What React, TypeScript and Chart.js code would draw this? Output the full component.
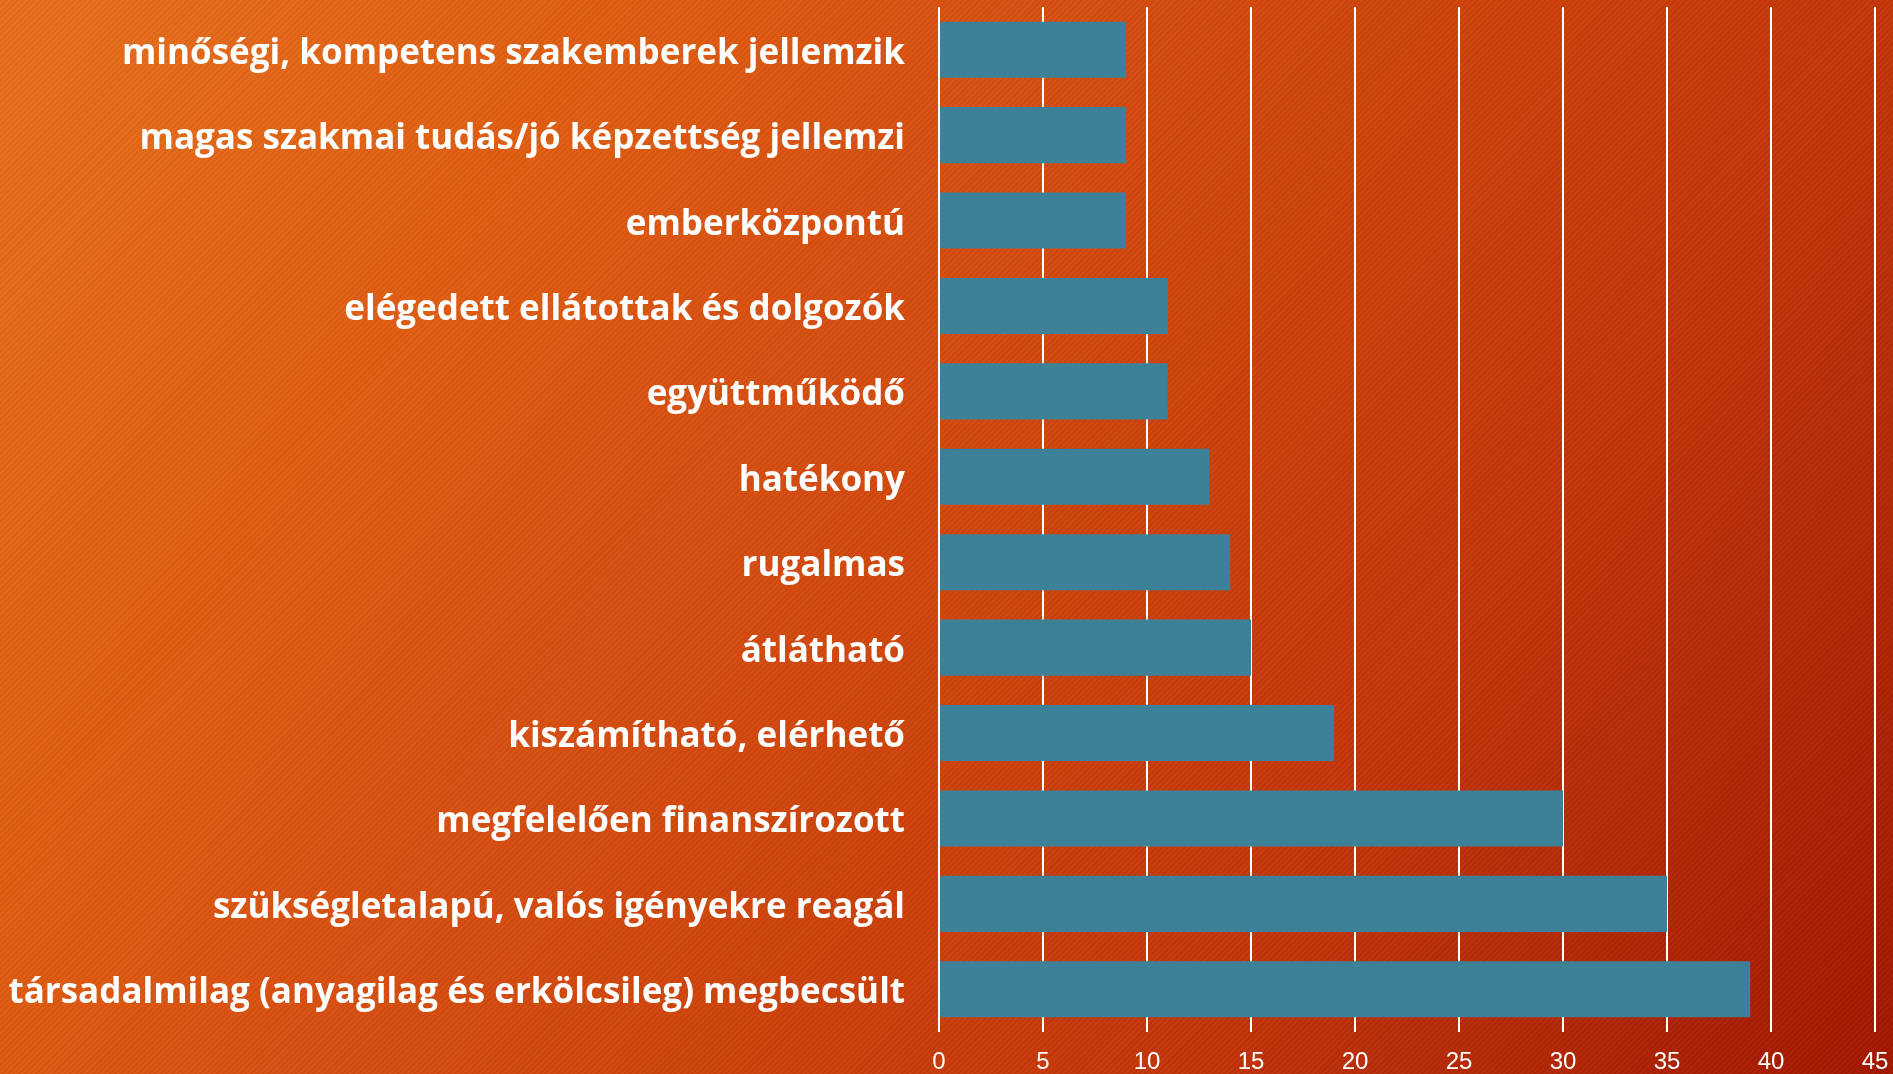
import React, { useEffect, useRef } from "react";
import { Chart, registerables } from "chart.js";

Chart.register(...registerables);

const categories: string[] = [
  "minőségi, kompetens szakemberek jellemzik",
  "magas szakmai tudás/jó képzettség jellemzi",
  "emberközpontú",
  "elégedett ellátottak és dolgozók",
  "együttműködő",
  "hatékony",
  "rugalmas",
  "átlátható",
  "kiszámítható, elérhető",
  "megfelelően finanszírozott",
  "szükségletalapú, valós igényekre reagál",
  "társadalmilag (anyagilag és erkölcsileg) megbecsült",
];

const values: number[] = [9, 9, 9, 11, 11, 13, 14, 15, 19, 30, 35, 39];

const xMin = 0;
const xMax = 45;
const xStep = 5;

const W = 1893;
const H = 1074;

export default function App() {
  const ref = useRef<HTMLCanvasElement | null>(null);

  useEffect(() => {
    document.body.style.margin = "0";
    const canvas = ref.current;
    if (!canvas) return;
    const chart = new Chart(canvas, {
      type: "bar",
      data: {
        labels: categories,
        datasets: [
          {
            data: values,
            backgroundColor: "#3D8199",
            borderWidth: 0,
            barPercentage: 0.656,
            categoryPercentage: 1,
          },
        ],
      },
      options: {
        indexAxis: "y",
        responsive: false,
        animation: false,
        devicePixelRatio: 1,
        layout: { padding: { left: 0, right: 18, top: 7, bottom: 0 } },
        plugins: {
          legend: { display: false },
          tooltip: { enabled: false },
        },
        scales: {
          x: {
            min: xMin,
            max: xMax,
            grid: {
              color: "#FFFFFF",
              lineWidth: 2,
              drawTicks: false,
            },
            border: { display: false },
            ticks: {
              stepSize: xStep,
              color: "#FFFFFF",
              padding: 16,
              font: { family: "'Liberation Sans Narrow', 'Liberation Sans', sans-serif", size: 24 },
            },
            afterFit: (scale: any) => {
              scale.height = 42;
              scale.paddingLeft = 0;
              scale.paddingRight = 0;
            },
          },
          y: {
            grid: { display: false, drawTicks: false },
            border: { display: false },
            ticks: {
              color: "#FFFFFF",
              padding: 34,
              labelOffset: 4,
              font: { family: "'Open Sans', sans-serif", size: 35, weight: "bold" },
            },
            afterFit: (scale: any) => {
              scale.width = 939;
              scale.paddingTop = 0;
              scale.paddingBottom = 0;
            },
          },
        },
      },
    });
    return () => chart.destroy();
  }, []);

  return (
    <div
      style={{
        position: "fixed",
        left: 0,
        top: 0,
        width: W,
        height: H,
        background:
          "repeating-linear-gradient(135deg, rgba(0,0,0,0.035) 0px, rgba(0,0,0,0.035) 2px, rgba(255,255,255,0.02) 2px, rgba(255,255,255,0.02) 4px), linear-gradient(125deg, #E8711E 0%, #DF5A10 28%, #DA5212 36%, #CF440C 54%, #C4360A 72%, #A31800 100%)",
      }}
    >
      <canvas ref={ref} width={W} height={H} style={{ display: "block" }} />
    </div>
  );
}
